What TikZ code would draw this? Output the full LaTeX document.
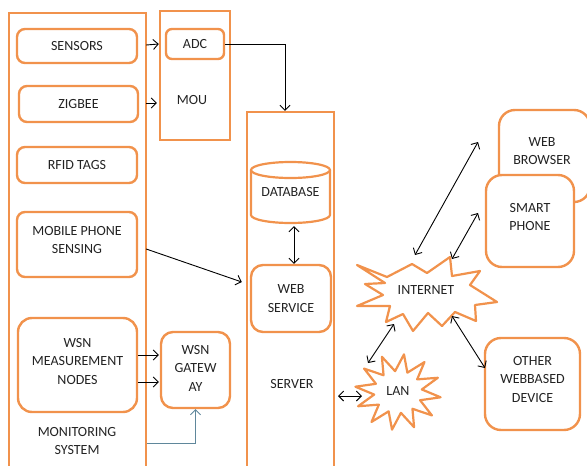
\documentclass[tikz,border=0pt]{standalone}
\usepackage{fontspec}
\setmainfont{Carlito}
\usetikzlibrary{arrows.meta,shapes.geometric,calc}
\definecolor{org}{RGB}{241,146,76}
\definecolor{txt}{RGB}{35,35,35}
\definecolor{lnk}{RGB}{95,135,155}
\begin{document}
\begin{tikzpicture}[x=1pt,y=-1pt,
  font=\fontsize{14}{18.5}\selectfont,
  box/.style={draw=org, line width=2.4pt, rounded corners=8pt, fill=white, text=txt, align=center, inner sep=0pt},
  frame/.style={draw=org, line width=2.4pt, inner sep=0pt},
  burst/.style={draw=org, line width=2.2pt, line join=round, fill=white},
  lbl/.style={text=txt, align=center, inner sep=0pt},
  arr/.style={-{Straight Barb[length=5pt,width=10pt]}, line width=0.9pt, draw=black},
  darr/.style={{Straight Barb[length=5pt,width=10pt]}-{Straight Barb[length=5pt,width=10pt]}, line width=0.9pt, draw=black}]
\useasboundingbox (0,0) rectangle (587,466);
\clip (0,0) rectangle (587,466);

% Monitoring system
\node[frame, minimum width=137, minimum height=462] (mon) at (77.5,244) {};
\node[box, minimum width=120, minimum height=34] (sensors) at (77,46) {SENSORS};
\node[box, minimum width=119, minimum height=36] (zigbee) at (78.5,104) {ZIGBEE};
\node[box, minimum width=120, minimum height=36] (rfid) at (77,165) {RFID TAGS};
\node[box, minimum width=120, minimum height=65] (mobile) at (77,244.5) {};
\node[lbl] (mobtxt) at (77,240) {MOBILE PHONE\\SENSING};
\node[box, rounded corners=14pt, minimum width=119, minimum height=94] (wsn) at (77.5,365) {};
\node[lbl] (wsntxt) at (77.5,361.5) {WSN\\MEASUREMENT\\NODES};
\node[lbl, font=\fontsize{14}{17.5}\selectfont] (montxt) at (77,441) {MONITORING\\SYSTEM};

% Gateway
\node[box, rounded corners=12pt, minimum width=69, minimum height=76] (gw) at (195.5,370) {};
\node[lbl] (gwtxt) at (195.5,368) {WSN\\GATEW\\AY};

% MOU
\node[frame, minimum width=70, minimum height=129] (mou) at (195,75.5) {};
\node[box, rounded corners=6pt, minimum width=58, minimum height=30] (adc) at (195,44) {ADC};
\node[lbl] (moutxt) at (192,100) {MOU};

% Server
\node[frame, minimum width=87, minimum height=366] (server) at (290.5,295) {};
\node[lbl, minimum width=79, minimum height=61] (db) at (290.5,192.5) {DATABASE};
\draw[draw=org, line width=2.2pt] (290.5,170) ellipse [x radius=39.5, y radius=8];
\draw[draw=org, line width=2.2pt] (251,170) -- (251,215) arc[start angle=180, end angle=0, x radius=39.5, y radius=8] -- (330,170);
\node[box, rounded corners=12pt, minimum width=80, minimum height=67] (ws) at (291,298.5) {WEB\\SERVICE};
\node[lbl] (srvtxt) at (292,384) {SERVER};

% Clients
\node[box, rounded corners=16pt, minimum width=91, minimum height=92] (browser) at (544.5,156) {};
\node[lbl] (brtxt) at (542,151) {WEB\\BROWSER};
\node[box, rounded corners=16pt, minimum width=88, minimum height=92] (phone) at (530,221) {};
\node[lbl] (phtxt) at (530,217) {SMART\\PHONE};
\node[box, rounded corners=16pt, minimum width=95, minimum height=92] (other) at (532.5,384) {};
\node[lbl] (othtxt) at (532.5,379.5) {OTHER\\WEBBASED\\DEVICE};

% Internet burst
\draw[burst] (357,265) -- (387,277) -- (412,264) -- (427,273) -- (450,257) -- (452,276) -- (480,271) -- (470,285) -- (497,302) -- (475,305) -- (476,321) -- (455,312) -- (442,326) -- (428,313) -- (413,331) -- (403,314) -- (386,322) -- (390,306) -- (357,306) -- (383,295) -- (365,284) -- (385,283) -- cycle;
\node[lbl] (inet) at (426,290) {INTERNET};

% LAN burst
\draw[burst] plot[samples at={0,15,...,345}, variable=\a] ({398+(mod(\a,30)==0 ? 43 : 24)*cos(\a+8)}, {392+(mod(\a,30)==0 ? 38 : 21)*sin(\a+8)}) -- cycle;
\node[lbl] (lan) at (398,391) {LAN};

% connector endpoints
\coordinate (inBr) at (415,255);
\coordinate (brIn) at (478,142);
\coordinate (inPh) at (452,259);
\coordinate (phIn) at (478,213);
\coordinate (inLan) at (394,324);
\coordinate (lanIn) at (368,363);
\coordinate (inOth) at (452,316);
\coordinate (othIn) at (485,368);
\coordinate (lanSrv) at (362,396);
\coordinate (srvLan) at (338,396);
\coordinate (adcTurn) at (285,44);

% arrows
\draw[arr] ($(sensors.east)+(8,-1)$) -- ($(adc.west)+(-6,0)$);
\draw[arr] ($(zigbee.east)+(7,-1)$) -- ($(mou.west |- zigbee.east)+(-2,-1)$);
\draw[arr] (adc.east) -- (adcTurn) -- (adcTurn |- server.north);
\draw[arr] ($(mobile.east)+(8,4.5)$) -- ($(server.west)+(-4,-13)$);
\draw[arr] ($(wsn.east)+(0,-10)$) -- ($(gw.west)+(-1,-15)$);
\draw[arr] ($(wsn.east)+(0,17)$) -- ($(gw.west)+(-1,12)$);
\draw[arr, draw=lnk] ($(mon.east)+(0,199)$) -| (gw.south);
\draw[darr] ($(db.south)+(3.5,3)$) -- ($(ws.north)+(3,0)$);
\draw[darr] (srvLan) -- (lanSrv);
\draw[darr] (lanIn) -- (inLan);
\draw[darr] (inOth) -- (othIn);
\draw[darr] (inBr) -- (brIn);
\draw[darr] (inPh) -- (phIn);
\end{tikzpicture}
\end{document}
